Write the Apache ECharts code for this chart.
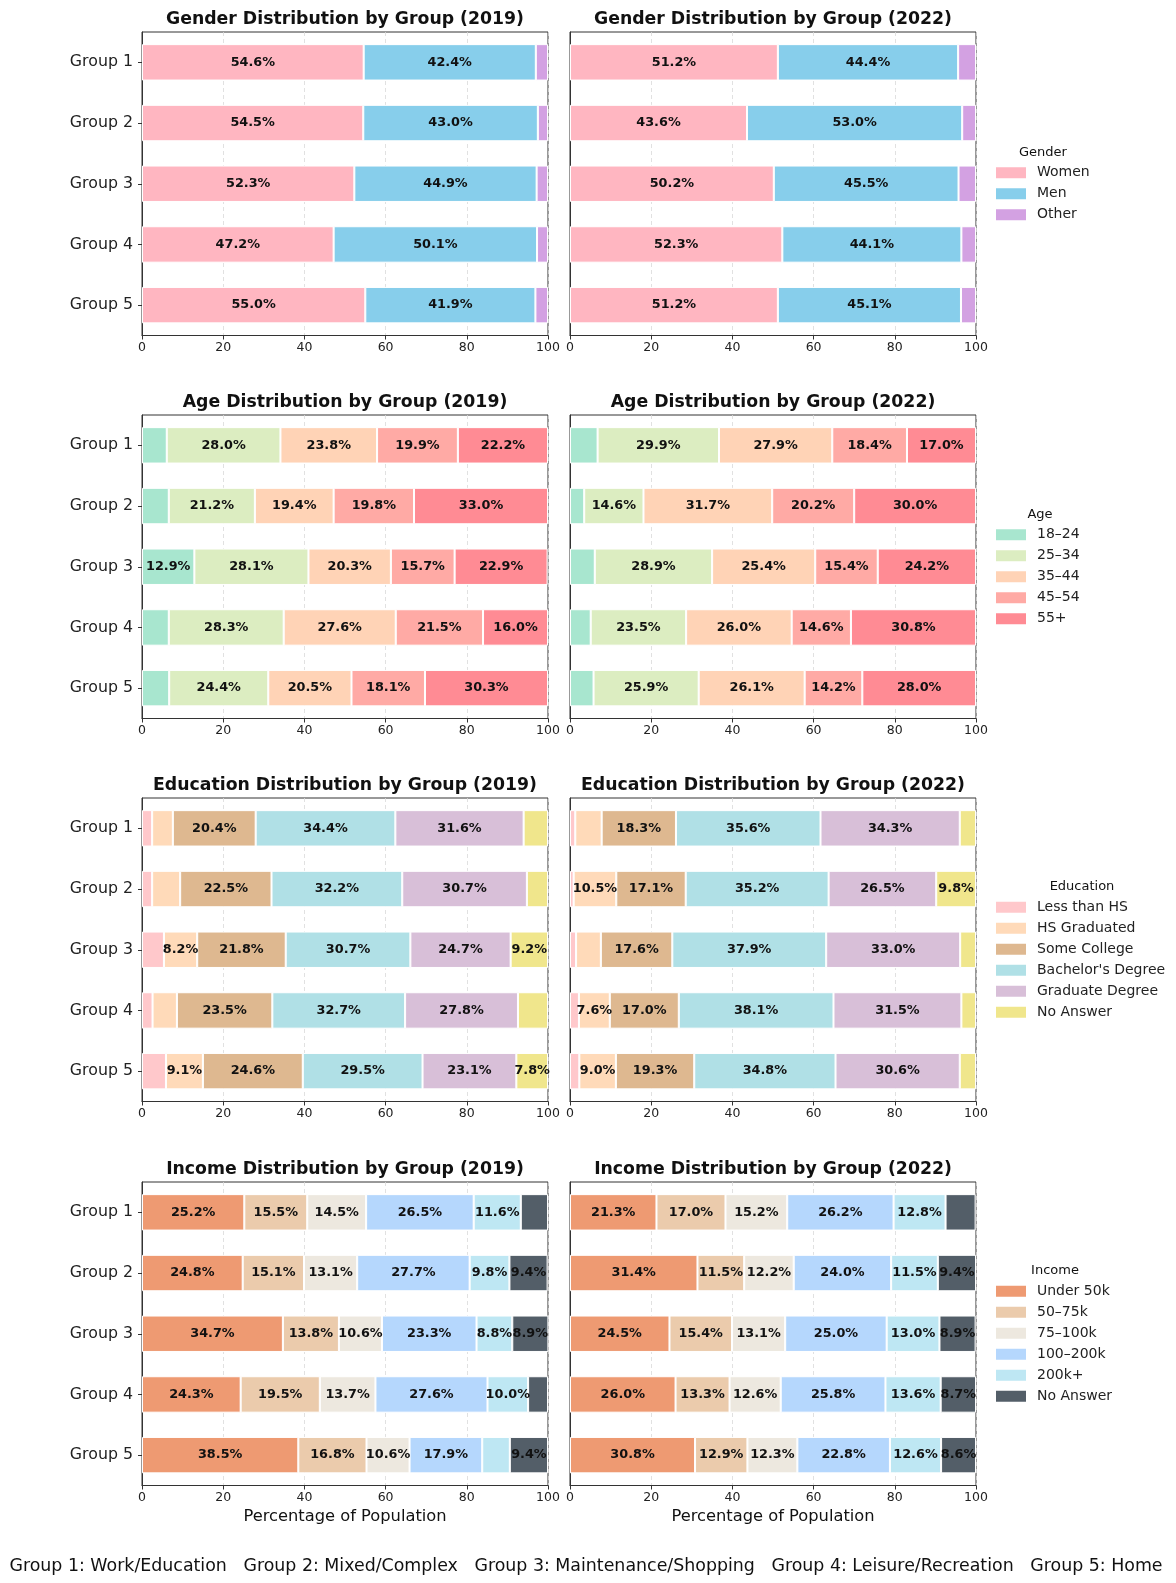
<!DOCTYPE html>
<html>
<head>
<meta charset="utf-8">
<title>Demographic distributions by group</title>
<script src="https://cdn.jsdelivr.net/npm/echarts@6/dist/echarts.min.js"></script>
<style>
  html, body { margin: 0; padding: 0; background: #fff; }
  #main { width: 1176px; height: 1583px; }
</style>
</head>
<body>
<div id="main"></div>
<script>
// ---- data (percent of population) ----
var groups = ['Group 1', 'Group 2', 'Group 3', 'Group 4', 'Group 5'];
var xTicks = [0, 20, 40, 60, 80, 100];

var genderNames = ['Women', 'Men', 'Other'];
// one inner array per category, values for Group 1..5
var gender2019 = [
  [54.6, 54.5, 52.3, 47.2, 55.0],
  [42.4, 43.0, 44.9, 50.1, 41.9],
  [3.0, 2.5, 2.8, 2.7, 3.1]
];
var gender2022 = [
  [51.2, 43.6, 50.2, 52.3, 51.2],
  [44.4, 53.0, 45.5, 44.1, 45.1],
  [4.4, 3.4, 4.3, 3.6, 3.7]
];

var ageNames = ['18–24', '25–34', '35–44', '45–54', '55+'];
var age2019 = [
  [6.1, 6.6, 12.9, 6.6, 6.7],
  [28.0, 21.2, 28.1, 28.3, 24.4],
  [23.8, 19.4, 20.3, 27.6, 20.5],
  [19.9, 19.8, 15.7, 21.5, 18.1],
  [22.2, 33.0, 22.9, 16.0, 30.3]
];
var age2022 = [
  [6.8, 3.5, 6.1, 5.1, 5.8],
  [29.9, 14.6, 28.9, 23.5, 25.9],
  [27.9, 31.7, 25.4, 26.0, 26.1],
  [18.4, 20.2, 15.4, 14.6, 14.2],
  [17.0, 30.0, 24.2, 30.8, 28.0]
];

var eduNames = ['Less than HS', 'HS Graduated', 'Some College', "Bachelor's Degree", 'Graduate Degree', 'No Answer'];
var edu2019 = [
  [2.5, 2.5, 5.4, 2.6, 5.9],
  [5.1, 6.9, 8.2, 6.0, 9.1],
  [20.4, 22.5, 21.8, 23.5, 24.6],
  [34.4, 32.2, 30.7, 32.7, 29.5],
  [31.6, 30.7, 24.7, 27.8, 23.1],
  [6.0, 5.2, 9.2, 7.4, 7.8]
];
var edu2022 = [
  [1.3, 0.9, 1.5, 2.2, 2.3],
  [6.5, 10.5, 6.1, 7.6, 9.0],
  [18.3, 17.1, 17.6, 17.0, 19.3],
  [35.6, 35.2, 37.9, 38.1, 34.8],
  [34.3, 26.5, 33.0, 31.5, 30.6],
  [4.0, 9.8, 3.9, 3.6, 4.0]
];

var incomeNames = ['Under 50k', '50–75k', '75–100k', '100–200k', '200k+', 'No Answer'];
var income2019 = [
  [25.2, 24.8, 34.7, 24.3, 38.5],
  [15.5, 15.1, 13.8, 19.5, 16.8],
  [14.5, 13.1, 10.6, 13.7, 10.6],
  [26.5, 27.7, 23.3, 27.6, 17.9],
  [11.6, 9.8, 8.8, 10.0, 6.8],
  [6.7, 9.4, 8.9, 4.9, 9.4]
];
var income2022 = [
  [21.3, 31.4, 24.5, 26.0, 30.8],
  [17.0, 11.5, 15.4, 13.3, 12.9],
  [15.2, 12.2, 13.1, 12.6, 12.3],
  [26.2, 24.0, 25.0, 25.8, 22.8],
  [12.8, 11.5, 13.0, 13.6, 12.6],
  [7.4, 9.4, 8.9, 8.7, 8.6]
];

var footerText = 'Group 1: Work/Education   Group 2: Mixed/Complex   Group 3: Maintenance/Shopping   Group 4: Leisure/Recreation   Group 5: Home';

// ---- styling ----
var genderColors = ['#FFB6C1', '#87CEEB', '#D3A1E2'];
var ageColors = ['#A8E6CF', '#DCEDC1', '#FFD3B6', '#FFAAA5', '#FF8B94'];
var eduColors = ['#FFC8CB', '#FFDAB9', '#DEB890', '#B0E0E6', '#D8BFD8', '#F0E68C'];
var incomeColors = ['#EE9A72', '#EBCBAC', '#EDE8DF', '#B5D7FD', '#BEE7F3', '#535E68'];

var rows = [
  { title: 'Gender', names: genderNames, colors: genderColors, left: gender2019, right: gender2022, legendX: 1043 },
  { title: 'Age', names: ageNames, colors: ageColors, left: age2019, right: age2022, legendX: 1040 },
  { title: 'Education', names: eduNames, colors: eduColors, left: edu2019, right: edu2022, legendX: 1082 },
  { title: 'Income', names: incomeNames, colors: incomeColors, left: income2019, right: income2022, legendX: 1055 }
];

var FONT = '"DejaVu Sans", "Liberation Sans", sans-serif';
var rowTops = [32, 415, 798, 1182];
var plotH = 303.5, plotW = 406;
var colLefts = [142, 570];

var grids = [], xAxes = [], yAxes = [], series = [], legends = [], graphics = [];

function textEl(x, y, text, size, weight) {
  return {
    type: 'text', x: x, y: y, silent: true,
    style: {
      text: text, fontSize: size, fontWeight: weight || 'normal', fontFamily: FONT,
      fill: '#111', align: 'center', verticalAlign: 'middle',
      textAlign: 'center', textVerticalAlign: 'middle'
    }
  };
}

rows.forEach(function (row, r) {
  [row.left, row.right].forEach(function (vals, c) {
    var idx = r * 2 + c;
    grids.push({
      left: colLefts[c], top: rowTops[r], width: plotW, height: plotH,
      show: true, borderColor: '#333', borderWidth: 1, backgroundColor: 'transparent'
    });
    xAxes.push({
      type: 'value', gridIndex: idx, min: xTicks[0], max: xTicks[xTicks.length - 1],
      interval: xTicks[1] - xTicks[0],
      axisLine: { show: true, lineStyle: { color: '#333', width: 1 } },
      axisTick: { show: true, length: 4, lineStyle: { color: '#333' } },
      axisLabel: { fontSize: 12.5, color: '#222', margin: 6, fontFamily: FONT },
      splitLine: { show: true, lineStyle: { color: '#d9d9d9', type: [4, 3], width: 0.8 } }
    });
    yAxes.push({
      type: 'category', gridIndex: idx, data: groups, inverse: true,
      axisLine: { show: true, lineStyle: { color: '#333', width: 1 } },
      axisTick: { show: c === 0, alignWithLabel: true, length: 4, lineStyle: { color: '#333' } },
      axisLabel: { show: c === 0, fontSize: 15.8, color: '#222', margin: 9, fontFamily: FONT },
      splitLine: { show: false }
    });
    row.names.forEach(function (name, i) {
      series.push({
        type: 'bar', name: name, stack: 'stack' + idx,
        xAxisIndex: idx, yAxisIndex: idx, barWidth: '60%',
        data: vals[i], silent: true,
        itemStyle: { color: row.colors[i], borderColor: '#fff', borderWidth: 1 },
        label: {
          show: true, position: 'inside', color: '#111', fontWeight: 'bold',
          fontSize: 12.8, fontFamily: FONT,
          formatter: function (p) { return p.value >= 7.5 ? p.value.toFixed(1) + '%' : ''; }
        },
        emphasis: { disabled: true }
      });
    });
    graphics.push(textEl(colLefts[c] + plotW / 2, rowTops[r] - 12,
      row.title + ' Distribution by Group (' + (c === 0 ? '2019' : '2022') + ')', 17.3, 'bold'));
  });

  var center = rowTops[r] + plotH / 2;
  var titleY = center - row.names.length * 21 / 2;
  graphics.push(textEl(row.legendX, titleY, row.title, 13));
  legends.push({
    orient: 'vertical', left: 996, top: titleY + 20.5 - 8, padding: 0,
    itemWidth: 30, itemHeight: 11, itemGap: 5, icon: 'rect', selectedMode: false,
    textStyle: { fontSize: 14, color: '#222', lineHeight: 16, fontFamily: FONT, padding: [0, 0, 0, 6] },
    data: row.names.map(function (n, i) {
      return { name: n, itemStyle: { color: row.colors[i], borderWidth: 0 } };
    })
  });
});

graphics.push(textEl(colLefts[0] + plotW / 2, 1517, 'Percentage of Population', 16.3));
graphics.push(textEl(colLefts[1] + plotW / 2, 1517, 'Percentage of Population', 16.3));
graphics.push(textEl(586, 1566, footerText, 17.4));

var chart = echarts.init(document.getElementById('main'), null, { renderer: 'canvas' });
chart.setOption({
  animation: false,
  backgroundColor: '#fff',
  textStyle: { fontFamily: FONT },
  grid: grids,
  xAxis: xAxes,
  yAxis: yAxes,
  legend: legends,
  series: series,
  graphic: graphics
});
</script>
</body>
</html>
